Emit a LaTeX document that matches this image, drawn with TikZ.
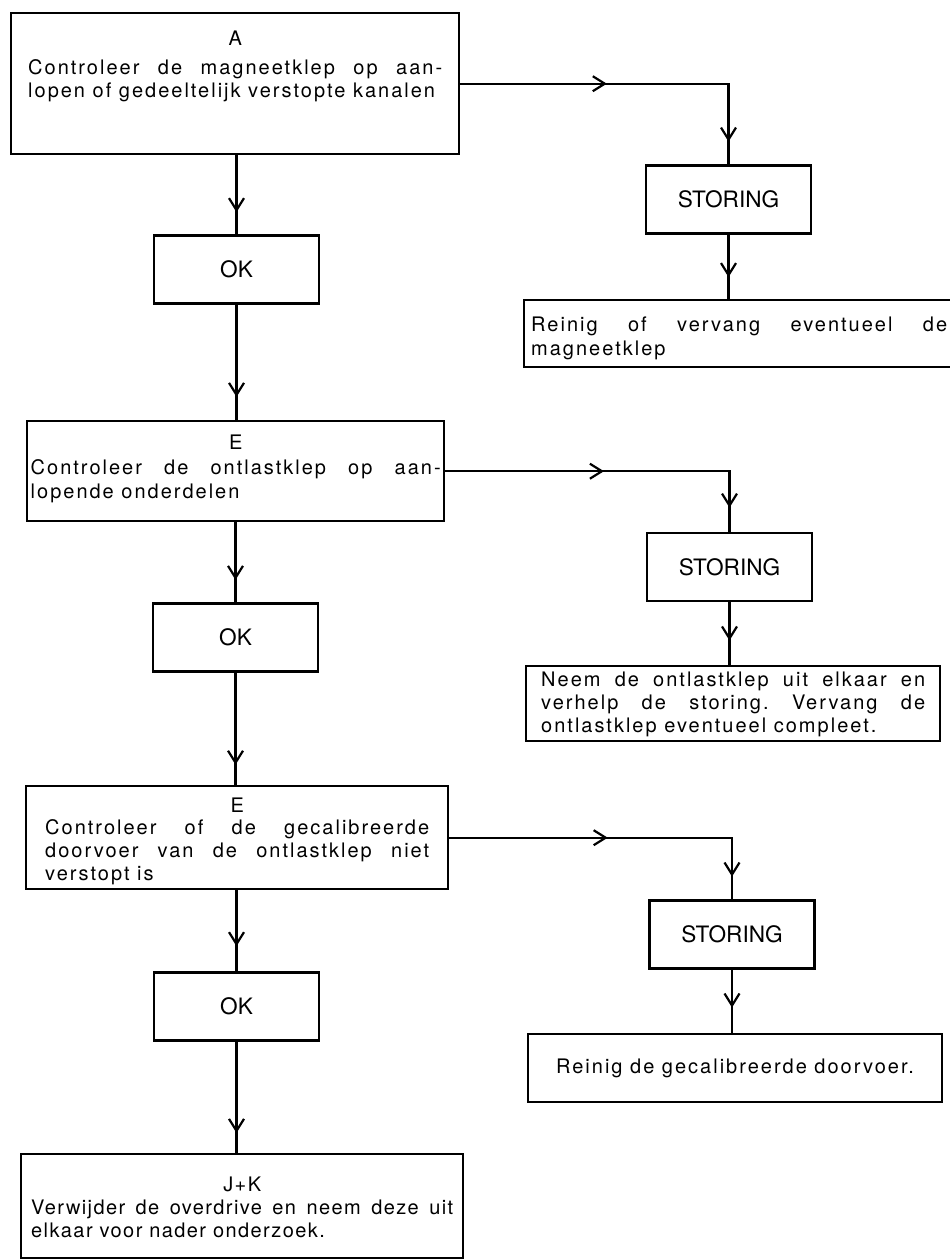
\documentclass[tikz,border=0pt]{standalone}
\usepackage{fontspec}
\setmainfont{TeX Gyre Heros}
\newfontfamily\ruim{TeX Gyre Heros}[LetterSpace=10]
\newfontfamily\krap{TeX Gyre Heros}[LetterSpace=7]
\usepackage{tikz}
\usetikzlibrary{arrows.meta,decorations.markings}
\newcommand{\kop}[1]{{\centering #1\par}}
\frenchspacing

\begin{document}
\begin{tikzpicture}[x=0.5pt, y=-0.5pt, >={Straight Barb[length=6pt,width=7.5pt]}]
      \tikzstyle{every node}=[font=\ruim\fontsize{10}{11.65}\selectfont]
      \tikzstyle{vak}=[draw, line width=1.2pt, inner ysep=0pt, anchor=north west, align=justify]
      \tikzstyle{vakje}=[draw, line width=1.2pt, minimum width=82.5pt, minimum height=34pt, font=\fontsize{11.3}{13}\selectfont]
      \tikzstyle{lijn}=[line width=1.1pt]
      \tikzset{pijl/.style={postaction={decorate,decoration={markings,mark=at position #1 with {\arrow{>}}}}}}
      \useasboundingbox (0,0) rectangle (949,1259);
      %%
  \node (stap_a) at (10,12) [vak, inner xsep=8.5pt, text width=207pt, text height=16pt, text depth=54.5pt] {\kop{A}\vspace{3pt}Controleer de magneetklep op aan-\linebreak lopen of gedeeltelijk verstopte kanalen};
  \node (ok_1) at (236.5,269.5) [vakje] {OK};
  \node (stap_e1) at (26,420) [vak, inner xsep=1.75pt, text width=205pt, text height=14.15pt, text depth=35.85pt] {\kop{E}\vspace{1pt}Controleer de ontlastklep op aan-\linebreak lopende onderdelen};
  \node (ok_2) at (235.5,637.5) [vakje] {OK};
  \node (stap_e2) at (25,785) [vak, inner xsep=9.5pt, text width=192pt, text height=13.35pt, text depth=38.15pt] {\kop{E}\vspace{-1pt}Controleer of de gecalibreerde\linebreak doorvoer van de ontlastklep niet\linebreak verstopt is};
  \node (ok_3) at (236.5,1006.5) [vakje] {OK};
  \node (stap_jk) at (20,1153) [vak, inner xsep=5pt, text width=211pt, text height=18.5pt, text depth=33.5pt, font=\krap\fontsize{10}{11.65}\selectfont] {\kop{J+K}Verwijder de overdrive en neem deze uit\linebreak elkaar voor nader onderzoek.};
  \node (storing_1) at (728.5,199.5) [vakje] {STORING};
  \node (actie_1) at (523,299) [vak, inner xsep=3.5pt, text width=208pt, text height=15.85pt, text depth=17.65pt] {Reinig of vervang eventueel de\linebreak magneetklep};
  \node (storing_2) at (729.5,567) [vakje] {STORING};
  \node (actie_2) at (525,665) [vak, inner xsep=7.5pt, text width=192pt, text height=10pt, text depth=27.5pt] {Neem de ontlastklep uit elkaar en\linebreak verhelp de storing. Vervang de\linebreak ontlastklep eventueel compleet.};
  \node (storing_3) at (732,934.5) [vakje] {STORING};
  \node (actie_3) at (735,1068) [draw, line width=1.2pt, minimum width=207pt, minimum height=34pt] {Reinig de gecalibreerde doorvoer.};
  \draw [lijn, pijl=0.72] (ok_1 |- stap_a.south) -- (ok_1);
  \draw [lijn, pijl=0.80] (ok_1) -- (ok_1 |- stap_e1.north);
  \draw [lijn, pijl=0.72] (ok_2 |- stap_e1.south) -- (ok_2);
  \draw [lijn, pijl=0.82] (ok_2) -- (ok_2 |- stap_e2.north);
  \draw [lijn, pijl=0.69] (ok_3 |- stap_e2.south) -- (ok_3);
  \draw [lijn, pijl=0.82] (ok_3) -- (ok_3 |- stap_jk.north);
  \draw [lijn, pijl=0.42, pijl=0.935] (stap_a) -| (storing_1);
  \draw [lijn, pijl=0.66] (storing_1) -- (storing_1 |- actie_1.north);
  \draw [lijn, pijl=0.46, pijl=0.93] (stap_e1) -| (storing_2);
  \draw [lijn, pijl=0.61] (storing_2) -- (storing_2 |- actie_2.north);
  \draw [lijn, pijl=0.46, pijl=0.934] (stap_e2) -| (storing_3);
  \draw [lijn, pijl=0.60] (storing_3) -- (storing_3 |- actie_3.north);
%
\end{tikzpicture}
\end{document}
